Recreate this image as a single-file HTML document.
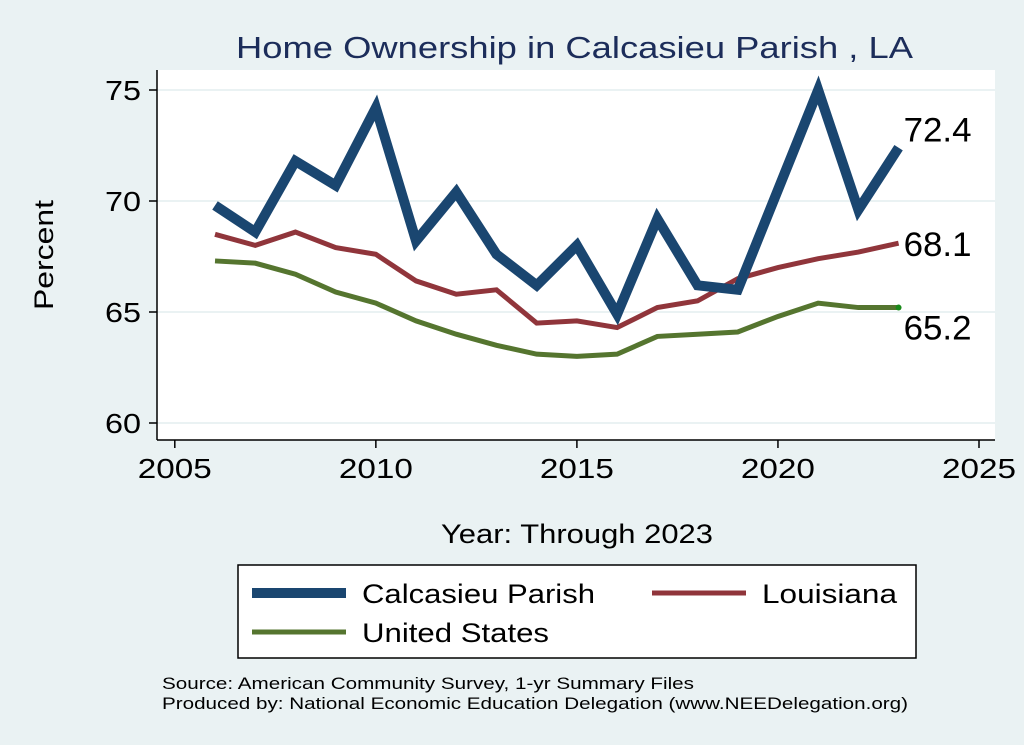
<!DOCTYPE html>
<html><head><meta charset="utf-8"><style>
body{margin:0;background:#eaf2f3;}
svg{display:block;font-family:"Liberation Sans",Arial,sans-serif;}
</style></head><body>
<svg id="chart" width="1024" height="745">
<rect x="0" y="0" width="1024" height="745" fill="#eaf2f3"/>
<text x="236" y="58" textLength="677" lengthAdjust="spacingAndGlyphs" font-size="31" fill="#1c2d5a">Home Ownership in Calcasieu Parish , LA</text>
<rect x="157" y="70" width="838" height="370" fill="#ffffff"/>
<g id="grid"></g>
<g id="axes"></g>
<g id="series"></g>
<text transform="translate(53,310) rotate(-90)" textLength="110" lengthAdjust="spacingAndGlyphs" font-size="27" fill="#000">Percent</text>
<text x="441" y="543" textLength="272" lengthAdjust="spacingAndGlyphs" font-size="27" fill="#000">Year: Through 2023</text>
<g>
<rect x="238" y="565" width="678" height="93" fill="#fff" stroke="#000" stroke-width="1.5"/>
<line x1="252" y1="593" x2="346" y2="593" stroke="#1a4670" stroke-width="10"/>
<text x="362" y="603" textLength="233" lengthAdjust="spacingAndGlyphs" font-size="27">Calcasieu Parish</text>
<line x1="652" y1="593" x2="746" y2="593" stroke="#90353b" stroke-width="5"/>
<text x="762" y="603" textLength="135" lengthAdjust="spacingAndGlyphs" font-size="27">Louisiana</text>
<line x1="252" y1="632" x2="346" y2="632" stroke="#55752f" stroke-width="5"/>
<text x="362" y="642" textLength="187" lengthAdjust="spacingAndGlyphs" font-size="27">United States</text>
</g>
<text x="162" y="689" textLength="532" lengthAdjust="spacingAndGlyphs" font-size="17">Source: American Community Survey, 1-yr Summary Files</text>
<text x="162" y="709" textLength="746" lengthAdjust="spacingAndGlyphs" font-size="17">Produced by: National Economic Education Delegation (www.NEEDelegation.org)</text>
</svg>
<script>
const years=[2006,2007,2008,2009,2010,2011,2012,2013,2014,2015,2016,2017,2018,2019,2020,2021,2022,2023];
const calcasieu=[69.8,68.6,71.8,70.7,74.2,68.2,70.4,67.6,66.2,68.0,64.9,69.2,66.2,66.0,70.5,75.0,69.6,72.4];
const louisiana=[68.5,68.0,68.6,67.9,67.6,66.4,65.8,66.0,64.5,64.6,64.3,65.2,65.5,66.5,67.0,67.4,67.7,68.1];
const unitedStates=[67.3,67.2,66.7,65.9,65.4,64.6,64.0,63.5,63.1,63.0,63.1,63.9,64.0,64.1,64.8,65.4,65.2,65.2];
const yTicks=[60,65,70,75];
const xTicks=[2005,2010,2015,2020,2025];
const NS="http://www.w3.org/2000/svg";
const xs=v=>174.8+(v-2005)*40.21;
const ys=v=>423-(v-60)*22.2;
function mk(tag,attrs,parent){const e=document.createElementNS(NS,tag);for(const k in attrs)e.setAttribute(k,attrs[k]);parent.appendChild(e);return e;}
const grid=document.getElementById('grid'),axes=document.getElementById('axes'),ser=document.getElementById('series');
mk('line',{x1:157,y1:70,x2:157,y2:440,stroke:'#000','stroke-width':1.5},axes);
mk('line',{x1:157,y1:440,x2:995,y2:440,stroke:'#000','stroke-width':1.5},axes);
yTicks.forEach(t=>{
 const g=mk('line',{x1:157,y1:ys(t),x2:995,y2:ys(t),stroke:'#eaf2f3','stroke-width':2},grid);
 
 
 mk('line',{x1:149,y1:ys(t),x2:157,y2:ys(t),stroke:'#000','stroke-width':1.5},axes);
 const tx=mk('text',{x:141,y:ys(t)+10,'text-anchor':'end','font-size':28,textLength:36,lengthAdjust:'spacingAndGlyphs'},axes);tx.textContent=t;
 
 
});
xTicks.forEach(t=>{
 mk('line',{x1:xs(t),y1:440,x2:xs(t),y2:448,stroke:'#000','stroke-width':1.5},axes);
 const tx=mk('text',{x:xs(t),y:478,'text-anchor':'middle','font-size':28,textLength:74,lengthAdjust:'spacingAndGlyphs'},axes);tx.textContent=t;
 
 
});
function line(vals,color,w,name,dy){
 const p=mk('polyline',{points:vals.map((v,i)=>xs(years[i])+','+ys(v)).join(' '),fill:'none',stroke:color,'stroke-width':w,'stroke-linejoin':'miter'},ser);
 
 
 const last=vals[vals.length-1];
 const lb=mk('text',{x:xs(years[years.length-1])+5,y:ys(last)+dy,'font-size':34,textLength:68,lengthAdjust:'spacingAndGlyphs'},ser);lb.textContent=last.toFixed(1);
 
 
}
line(unitedStates,'#55752f',5,'us-line',32);
mk('circle',{cx:xs(2023),cy:ys(unitedStates[unitedStates.length-1]),r:3,fill:'#1a8a1a'},ser);
line(louisiana,'#90353b',5,'louisiana-line',13);
line(calcasieu,'#1a4670',10,'calcasieu-line',-6);
</script>
</body></html>
